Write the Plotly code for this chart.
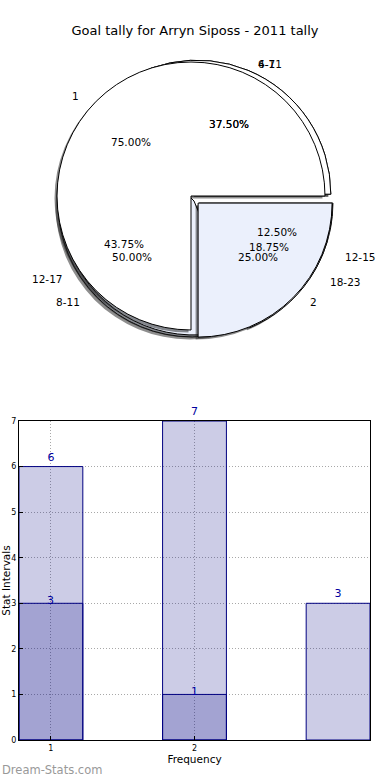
import math
import plotly.graph_objects as go

# ---------------- data ----------------
TITLE = "Goal tally for Arryn Siposs - 2011 tally"

pie1_labels = ["1", "2"]
pie1_values = [3, 1]

pie2_labels = ["6-7", "12-17", "18-23"]
pie2_values = [6, 7, 3]

pie3_labels = ["4-11", "8-11", "12-15"]
pie3_values = [3, 4, 1]

bar_x = [1, 2, 3]
bar_light = [6, 7, 3]
bar_dark_x = [1, 2]
bar_dark = [3, 1]

x_tick_vals = [1, 2]
x_tick_text = ["1", "2"]
y_tick_vals = [0, 1, 2, 3, 4, 5, 6, 7]

X_TITLE = "Frequency"
Y_TITLE = "Stat Intervals"
WATERMARK = "Dream-Stats.com"

# ---------------- styling / geometry ----------------
W, H = 390, 780
R = 134            # pie radius in px
TRX, TRY = 141, 128  # radii used to place the pie texts
FONT = "DejaVu Sans"
LIGHT = "#EBF0FC"

pie_styles = [
    # (labels, values, colors, pulls, cx, cy)  -- drawn bottom to top
    (pie3_labels, pie3_values, ["white", LIGHT, "white"], [0.055, 0.02, 0.04], 194, 201),
    (pie2_labels, pie2_values, ["white", LIGHT, "white"], [0.055, 0.0, 0.04], 194, 201),
    (pie1_labels, pie1_values, ["white", LIGHT], [0.0, 0.075], 191, 196),
]


def pie_domain(cx, cy, pulls, dx=0.0, dy=0.0):
    h = R * (1 + max(pulls))
    cx += dx
    cy += dy
    return dict(x=[(cx - h) / W, (cx + h) / W], y=[1 - (cy + h) / H, 1 - (cy - h) / H])


fig = go.Figure()
annotations = []

for labels, values, colors, pulls, cx, cy in pie_styles:
    # shadow (matplotlib-style), offset left/down
    fig.add_trace(go.Pie(
        labels=labels[::-1], values=values[::-1], pull=pulls[::-1],
        sort=False, direction="clockwise", rotation=90,
        marker=dict(colors=["rgba(30,30,30,0.5)"] * len(values), line=dict(width=0)),
        textinfo="none", hoverinfo="skip", showlegend=False,
        domain=pie_domain(cx, cy, pulls, dx=-2.5, dy=2.5),
    ))
    fig.add_trace(go.Pie(
        labels=labels[::-1], values=values[::-1], pull=pulls[::-1],
        sort=False, direction="clockwise", rotation=90,
        marker=dict(colors=colors[::-1], line=dict(color="black", width=1)),
        textinfo="none", hoverinfo="label+percent", showlegend=False,
        domain=pie_domain(cx, cy, pulls),
    ))
    total = float(sum(values))
    start = 0.0
    for lab, v, p in zip(labels, values, pulls):
        ang = 360.0 * v / total
        mid = math.radians(start + ang / 2)
        start += ang
        c, s = math.cos(mid), -math.sin(mid)
        ox, oy = cx + p * TRX * c, cy + p * TRY * s
        # percentage at 0.6 R
        annotations.append(dict(
            x=(ox + 0.6 * TRX * c) / W, y=1 - (oy + 0.6 * TRY * s) / H,
            xref="paper", yref="paper", text="%.2f%%" % (100 * v / total),
            showarrow=False, xanchor="center", yanchor="middle",
            font=dict(family=FONT, size=10.5, color="black"),
        ))
        # label at 1.1 R
        annotations.append(dict(
            x=(ox + 1.1 * TRX * c) / W, y=1 - (oy + 1.1 * TRY * s) / H,
            xref="paper", yref="paper", text=lab,
            showarrow=False, xanchor="left" if c > 0 else "right", yanchor="middle",
            font=dict(family=FONT, size=10.5, color="black"),
        ))

# ---------------- bar chart ----------------
BAR_FILL = "rgba(0,0,128,0.2)"
BAR_LINE = "#000080"
TEXT_BLUE = "#0000A0"
BW = 4 / 9

fig.add_trace(go.Bar(
    x=bar_x, y=bar_light, width=BW, xaxis="x", yaxis="y",
    marker=dict(color=BAR_FILL, line=dict(color=BAR_LINE, width=1)),
    text=[str(v) for v in bar_light], textposition="outside",
    textfont=dict(family=FONT, size=11, color=TEXT_BLUE),
    cliponaxis=False, showlegend=False,
))
fig.add_trace(go.Bar(
    x=bar_dark_x, y=bar_dark, width=BW, xaxis="x", yaxis="y",
    marker=dict(color=BAR_FILL, line=dict(color=BAR_LINE, width=1)),
    textposition="none", cliponaxis=False, showlegend=False,
))
# value labels of the second series sit right on the bar tops
for xv, yv in zip(bar_dark_x, bar_dark):
    annotations.append(dict(
        x=xv, y=yv, xref="x", yref="y", text=str(yv), showarrow=False,
        xanchor="center", yanchor="middle", yshift=3,
        font=dict(family=FONT, size=11, color=TEXT_BLUE),
    ))

annotations.append(dict(
    x=0.0, y=1 - 770 / H, xref="paper", yref="paper", text=WATERMARK,
    showarrow=False, xanchor="left", yanchor="middle",
    font=dict(family=FONT, size=11.5, color="#999999"),
))

axis_common = dict(
    showline=True, mirror=True, linecolor="black", linewidth=1,
    ticks="inside", ticklen=4, tickcolor="black",
    showgrid=True, gridcolor="#a8a8a8", gridwidth=1, griddash="1px,2px",
    zeroline=False, automargin=False,
    tickfont=dict(family=FONT, size=8, color="black"),
)

fig.update_layout(
    template="none",
    width=W, height=H,
    margin=dict(l=0, r=0, t=0, b=0),
    paper_bgcolor="white", plot_bgcolor="white",
    font=dict(family=FONT, color="black"),
    title=dict(text=TITLE, x=0.5, xanchor="center", y=1 - 30 / H, yanchor="middle",
               xref="paper", yref="container",
               font=dict(family=FONT, size=13, color="black")),
    barmode="overlay",
    xaxis=dict(domain=[19 / W, 370 / W], range=[1 - BW / 2, 3 + BW / 2],
               tickvals=x_tick_vals, ticktext=x_tick_text,
               title=dict(text=X_TITLE, standoff=4, font=dict(family=FONT, size=10.5)),
               anchor="y", **axis_common),
    yaxis=dict(domain=[1 - 740 / H, 1 - 421 / H], range=[0, 7],
               tickvals=y_tick_vals,
               title=dict(text=Y_TITLE, standoff=4, font=dict(family=FONT, size=10.5)),
               anchor="x", **axis_common),
    annotations=annotations,
)

fig.write_html("out.html",
               config={"displayModeBar": False},
               post_script="document.body.style.margin='0';document.body.style.overflow='hidden';")
